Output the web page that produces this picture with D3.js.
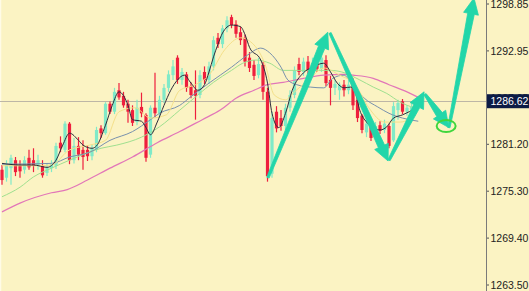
<html>
<head>
<meta charset="utf-8" />
<script src="https://d3js.org/d3.v7.min.js"></script>
<style>
  body { margin:0; background:#fbf3c3; }
  svg { display:block; }
</style>
</head>
<body>
<svg width="529" height="291" font-family="Liberation Sans, Arial, sans-serif" font-size="10.5"></svg>
<script type="text/javascript">

// candles: open, high, low, close
var opens  = [1278.0,1277.0,1278.2,1279.2,1278.5,1278.0,1279.5,1279.2,1278.6,1278.5,1277.6,1278.2,1278.5,1281.4,1280.5,1283.8,1279.2,1281.0,1280.5,1280.5,
              1279.7,1280.5,1283.2,1282.6,1286.3,1285.3,1288.0,1287.3,1286.3,1285.5,1284.0,1285.9,1284.9,1279.9,1285.8,1285.1,1286.8,1288.3,1289.9,1292.1,
              1289.3,1290.0,1288.5,1288.0,1287.4,1290.3,1289.3,1291.0,1294.6,1293.8,1295.8,1297.2,1296.3,1295.3,1294.6,1292.1,1291.2,1289.9,1291.2,1287.8,
              1277.5,1285.3,1284.5,1283.5,1285.8,1287.4,1291.3,1290.3,1291.6,1290.5,1291.4,1290.7,1291.8,1289.3,1288.3,1288.0,1288.7,1288.0,1289.0,1286.8,
              1284.8,1282.7,1283.5,1282.5,1283.6,1283.0,1283.5,1281.7,1285.5,1286.6,1285.3,1285.5,1285.8];
var highs  = [1278.6,1279.2,1279.9,1279.6,1279.2,1279.7,1280.5,1280.7,1279.9,1279.2,1278.8,1279.2,1281.4,1282.2,1284.1,1284.0,1282.0,1282.1,1281.7,1281.1,
              1281.2,1283.4,1283.6,1286.5,1286.6,1288.3,1288.9,1287.8,1286.8,1286.1,1286.8,1287.7,1285.1,1286.1,1290.2,1287.3,1288.8,1290.5,1291.8,1292.4,
              1290.8,1290.3,1289.0,1290.5,1290.5,1291.0,1291.6,1294.8,1295.2,1296.2,1297.3,1297.5,1296.8,1296.0,1295.0,1292.8,1291.8,1292.1,1291.6,1288.3,
              1285.3,1286.0,1285.5,1286.3,1288.0,1291.0,1292.1,1292.1,1292.3,1292.1,1292.2,1292.6,1292.4,1289.8,1289.3,1289.0,1289.3,1289.3,1289.5,1287.4,
              1285.0,1284.3,1283.8,1284.0,1284.1,1284.3,1283.8,1286.5,1286.8,1286.9,1286.1,1286.3,1286.8];
var lows   = [1276.1,1276.5,1276.1,1277.2,1277.0,1277.5,1278.0,1277.7,1278.0,1277.0,1277.2,1277.7,1278.1,1280.2,1280.2,1278.7,1278.8,1279.2,1278.0,1279.1,
              1279.2,1280.2,1282.0,1282.4,1285.0,1285.0,1286.8,1285.8,1283.9,1283.5,1283.6,1284.6,1279.0,1279.5,1284.6,1284.6,1286.4,1287.8,1289.3,1288.8,
              1288.7,1287.8,1287.0,1284.3,1287.0,1288.8,1288.8,1290.5,1293.3,1293.3,1295.3,1295.8,1294.6,1293.7,1291.0,1290.3,1289.3,1289.5,1286.8,1276.5,
              1277.0,1282.7,1282.9,1283.0,1285.3,1287.0,1289.9,1289.8,1290.0,1290.2,1290.3,1290.3,1288.5,1286.1,1287.4,1286.8,1287.2,1287.5,1285.5,1284.0,
              1282.6,1282.1,1281.6,1282.1,1282.5,1282.6,1280.7,1281.5,1284.3,1285.0,1284.8,1284.9,1285.1];
var closes = [1276.7,1278.6,1279.5,1277.7,1277.8,1279.2,1278.3,1278.5,1279.2,1277.3,1278.3,1278.7,1281.0,1280.7,1283.8,1279.2,1281.0,1279.9,1279.6,1279.7,
              1280.7,1283.0,1282.6,1286.3,1285.3,1287.8,1287.1,1286.1,1285.3,1283.9,1285.8,1285.1,1279.5,1285.8,1285.1,1286.8,1288.3,1290.0,1291.0,1289.3,
              1290.3,1288.3,1287.4,1287.3,1289.9,1289.3,1291.0,1294.3,1293.8,1295.8,1296.8,1296.2,1295.1,1294.3,1291.6,1290.8,1289.8,1291.3,1287.8,1277.2,
              1284.5,1283.2,1283.5,1285.8,1287.4,1290.5,1290.3,1291.6,1290.5,1291.4,1290.7,1292.1,1288.9,1288.3,1288.8,1288.7,1288.0,1288.7,1286.1,1284.5,
              1283.0,1283.8,1282.0,1283.5,1282.9,1283.8,1281.0,1286.0,1286.4,1285.3,1285.8,1285.9,1286.6];

// moving averages: [candle index, price]
var maBlack = [[0,1278.8],[4,1278.6],[7,1278.6],[10,1278.3],[12,1279.2],[13.5,1281.1],[15,1282.6],[17,1281.7],[18,1281.1],[20,1280.7],
               [21,1281.0],[23,1283.6],[24.5,1286.1],[26,1287.8],[28,1286.1],[29,1284.3],[31,1284.1],[32,1283.3],[33,1282.4],[34.5,1284.0],
               [36,1286.1],[37.5,1288.0],[39,1289.3],[40.5,1289.9],[42,1288.9],[43.5,1288.0],[45,1288.7],[46,1290.3],[47,1292.2],[48,1293.8],
               [49,1295.2],[51,1296.2],[53,1296.0],[54,1295.0],[55,1293.4],[57.5,1291.8],[59,1288.9],[60,1285.1],[61.5,1283.3],[63,1285.1],
               [64.5,1288.0],[67,1290.2],[69,1290.9],[71.5,1291.4],[73,1290.3],[74.5,1288.9],[76,1288.3],[77.5,1288.4],[78.5,1287.7],[79.5,1285.5],
               [81,1284.0],[82.5,1283.3],[84,1283.0],[85.5,1283.4],[87,1284.5],[89,1284.9],[90.5,1285.3],[91.5,1285.6]];
var maYellow = [[0,1278.5],[7,1278.5],[11,1278.6],[15,1280.5],[19.5,1281.1],[23,1281.7],[26,1285.3],[29.5,1285.8],[33,1284.5],[36.5,1284.9],
                [39.5,1288.0],[43,1288.7],[46,1289.9],[49.5,1293.1],[53,1294.6],[56,1293.7],[58.5,1291.2],[60.5,1287.4],[63,1286.8],[65,1287.8],
                [68.5,1289.5],[71.5,1290.8],[75,1289.9],[78.5,1288.7],[81.5,1285.8],[85,1284.0],[88.5,1284.0],[92,1284.9]];
var maBlue = [[0,1278.7],[11,1278.8],[15,1279.6],[19.5,1280.2],[24,1281.7],[29,1282.8],[33,1284.3],[35,1285.1],[39.5,1286.1],[42,1287.2],
              [46,1288.9],[51,1290.9],[54.5,1292.4],[57.5,1293.3],[59.5,1292.7],[62,1290.9],[63.5,1289.3],[65.5,1288.7],[68.5,1288.4],[71.5,1288.3],
              [73.5,1289.5],[76,1289.9],[77.5,1289.0],[80.5,1287.0],[83.5,1285.9],[86,1285.1],[89,1284.5],[92.5,1284.1]];
var maGreen = [[0,1274.6],[4,1275.8],[7,1277.1],[11,1278.2],[15,1279.2],[22,1280.7],[25.5,1281.1],[31,1282.1],[35,1283.4],[39.5,1285.5],
               [43.5,1287.4],[47,1289.0],[51,1290.5],[53.5,1291.4],[56.5,1291.8],[59.5,1291.4],[62.5,1290.5],[68.5,1290.5],[73,1290.5],[75.5,1290.3],
               [79.5,1289.3],[82.5,1288.4],[85.5,1287.6],[88.5,1286.5],[91.5,1285.8]];
var maPink = [[0,1272.7],[4,1273.8],[11,1275.1],[14.5,1275.5],[19,1276.7],[24,1278.2],[29,1279.6],[34.5,1281.4],[39.5,1282.8],[44.5,1284.3],
              [48.5,1285.5],[52,1287.0],[56,1288.0],[59,1288.7],[62.5,1289.0],[67,1289.5],[71.5,1289.9],[76,1290.0],[78,1289.9],[82.5,1289.5],
              [86,1288.7],[90,1287.8],[92.5,1287.1]];

var priceTicks = [1298.85, 1292.95, 1287.05, 1281.20, 1275.30, 1269.40, 1263.50];
var lastPrice = 1286.62;

// hand-drawn forecast arrows: [start index, start price, end index, end price]
var arrows = [[59.1,1277.0,72.4,1295.3],
              [72.9,1295.2,85.8,1279.1],
              [86.0,1279.2,93.8,1287.8],
              [94.0,1287.5,99.3,1283.3],
              [99.3,1283.3,104.9,1299.6]];
var target = [98.7, 1283.5];

var svg = d3.select("svg");
var axisX = 486;

var x = d3.scaleLinear().domain([0, 92]).range([2, 416]);
var y = d3.scaleLinear().domain([1298.85, 1263.50]).range([4, 285]);

svg.append("rect").attr("width", 529).attr("height", 291).attr("fill", "#fbf3c3");
svg.append("line").attr("x1", 0.5).attr("x2", 0.5).attr("y1", 0).attr("y2", 291)
   .attr("stroke", "#fffbe6").attr("stroke-width", 1.5);

svg.append("clipPath").attr("id", "plot").append("rect")
   .attr("x", 0).attr("y", 0).attr("width", axisX).attr("height", 291);
var g = svg.append("g").attr("clip-path", "url(#plot)");

// current price line
g.append("line").attr("x1", 0).attr("x2", axisX)
  .attr("y1", Math.round(y(lastPrice)) + 0.5).attr("y2", Math.round(y(lastPrice)) + 0.5)
  .attr("stroke", "#bdb6a6").attr("stroke-width", 1);

var candles = d3.range(closes.length).map(function(i) {
  return {i:i, o:opens[i], h:highs[i], l:lows[i], c:closes[i]};
});

function col(d) { return d.c >= d.o ? "#80eac8" : "#ee1f3d"; }

g.selectAll(".wick").data(candles).enter().append("line")
  .attr("x1", function(d) { return x(d.i); })
  .attr("x2", function(d) { return x(d.i); })
  .attr("y1", function(d) { return y(d.h); })
  .attr("y2", function(d) { return y(d.l); })
  .attr("stroke", col).attr("stroke-width", 1.2);

g.selectAll(".body").data(candles).enter().append("rect")
  .attr("x", function(d) { return x(d.i) - 1.6; })
  .attr("width", 3.2)
  .attr("y", function(d) { return y(Math.max(d.o, d.c)); })
  .attr("height", function(d) { return Math.max(1, Math.abs(y(d.o) - y(d.c))); })
  .attr("fill", col);

var line = d3.line()
  .x(function(d) { return x(d[0]); })
  .y(function(d) { return y(d[1]); })
  .curve(d3.curveMonotoneX);

var mas = [[maPink, "#e276b8", 1.2], [maGreen, "#9fe08f", 1], [maBlue, "#7891ad", 1],
           [maYellow, "#f4e08a", 1], [maBlack, "#2d2d3c", 1]];
mas.forEach(function(m) {
  g.append("path").attr("d", line(m[0]))
    .attr("fill", "none").attr("stroke", m[1]).attr("stroke-width", m[2]);
});

// tapered arrows
function arrowPath(a) {
  var x0 = x(a[0]), y0 = y(a[1]), x1 = x(a[2]), y1 = y(a[3]);
  var dx = x1 - x0, dy = y1 - y0, len = Math.sqrt(dx*dx + dy*dy);
  var ux = dx/len, uy = dy/len, nx = -uy, ny = ux;
  var hl = 16, hw = 7.5, w0 = 1.2, w1 = 3.4;
  var bx = x1 - ux*hl, by = y1 - uy*hl;
  var p = [[x0 + nx*w0, y0 + ny*w0], [bx + nx*w1, by + ny*w1], [bx + nx*hw, by + ny*hw], [x1, y1],
           [bx - nx*hw, by - ny*hw], [bx - nx*w1, by - ny*w1], [x0 - nx*w0, y0 - ny*w0]];
  return "M" + p.map(function(q) { return q[0].toFixed(1) + "," + q[1].toFixed(1); }).join("L") + "Z";
}

g.selectAll(".arrow").data(arrows).enter().append("path")
  .attr("d", arrowPath)
  .attr("fill", "#22d6a9").attr("stroke", "#22d6a9").attr("stroke-width", 0.8)
  .attr("stroke-linejoin", "round");

g.append("ellipse").attr("cx", x(target[0])).attr("cy", y(target[1]))
  .attr("rx", 9.5).attr("ry", 6)
  .attr("fill", "none").attr("stroke", "#3fd63c").attr("stroke-width", 2);

// price axis
svg.append("line").attr("x1", axisX + 0.5).attr("x2", axisX + 0.5).attr("y1", 0).attr("y2", 291)
   .attr("stroke", "#7a7a7a").attr("stroke-width", 1);

var ticks = svg.selectAll(".tick").data(priceTicks).enter().append("g")
  .attr("transform", function(d) { return "translate(0," + y(d) + ")"; });
ticks.append("line").attr("x1", axisX + 1).attr("x2", axisX + 3)
  .attr("stroke", "#555").attr("stroke-width", 1);
ticks.append("text").attr("x", 490.5).attr("dy", "0.36em")
  .attr("fill", "#222").text(function(d) { return d.toFixed(2); });

var ly = y(lastPrice);
svg.append("rect").attr("x", axisX + 1).attr("y", ly - 7).attr("width", 529 - axisX).attr("height", 14)
   .attr("fill", "#0c1b45");
svg.append("text").attr("x", 490.5).attr("y", ly).attr("dy", "0.36em")
   .attr("fill", "#ffffff").text(lastPrice.toFixed(2));

</script>
</body>
</html>
